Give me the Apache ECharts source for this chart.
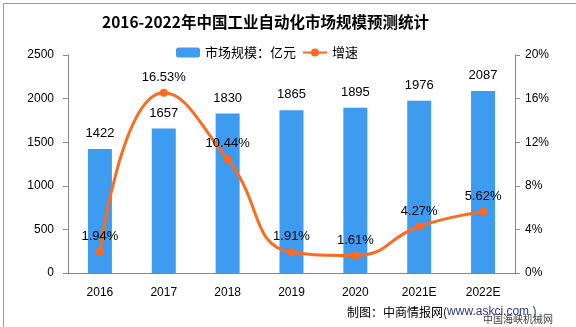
<!DOCTYPE html>
<html><head><meta charset="utf-8">
<script src="https://cdn.jsdelivr.net/npm/echarts@6/dist/echarts.min.js"></script>
<style>html,body{margin:0;padding:0;background:#fff}#c{width:576px;height:327px}</style>
</head><body><div id="c"></div>
<script>
const categories = ['2016','2017','2018','2019','2020','2021E','2022E'];
const marketSize = [1422,1657,1830,1865,1895,1976,2087];
const growth = [1.94,16.53,10.44,1.91,1.61,4.27,5.62];
const leftTicks = {min:0,max:2500,interval:500};
const rightTicks = {min:0,max:20,interval:4};

const chart = echarts.init(document.getElementById('c'));
const axisFont = {color:'#000',fontSize:12,fontFamily:'Liberation Sans'};
chart.setOption({
  animation:false,
  title:{text:'2016-2022年中国工业自动化市场规模预测统计',left:97,top:9,
    textStyle:{fontSize:15.5,fontWeight:'bold',color:'#000',fontFamily:'Noto Sans CJK SC'}},
  legend:{top:41,left:171,itemGap:6,itemWidth:24,itemHeight:10,
    textStyle:{fontSize:13,color:'#000',fontFamily:'Noto Sans CJK SC'},
    data:[{name:'市场规模：亿元'},{name:'增速'}]},
  grid:{left:68,right:61,top:55,bottom:54},
  xAxis:{type:'category',data:categories,
    axisLine:{lineStyle:{color:'#888'}},axisTick:{length:7,lineStyle:{color:'#888'}},
    axisLabel:Object.assign({margin:14},axisFont)},
  yAxis:[
    {type:'value',min:leftTicks.min,max:leftTicks.max,interval:leftTicks.interval,
     axisLine:{show:true,lineStyle:{color:'#888'}},axisTick:{show:true,length:5,lineStyle:{color:'#888'}},
     splitLine:{show:false},axisLabel:Object.assign({margin:14,formatter:v=>String(v)},axisFont)},
    {type:'value',min:rightTicks.min,max:rightTicks.max,interval:rightTicks.interval,
     axisLine:{show:true,lineStyle:{color:'#888'}},axisTick:{show:true,length:5,lineStyle:{color:'#888'}},
     splitLine:{show:false},axisLabel:Object.assign({margin:10,formatter:'{value}%'},axisFont)}
  ],
  series:[
    {name:'市场规模：亿元',type:'bar',data:marketSize,barWidth:24,
     itemStyle:{color:'#3d9cf0'},
     label:{show:true,position:'top',distance:9,color:'#000',fontSize:13,fontFamily:'Liberation Sans'}},
    {name:'增速',type:'line',yAxisIndex:1,data:growth,smooth:0.5,
     symbol:'circle',symbolSize:8,
     lineStyle:{color:'#ff6a1f',width:3},itemStyle:{color:'#ff6a1f'},
     label:{show:true,position:'top',distance:5,color:'#000',fontSize:13,fontFamily:'Liberation Sans',
       formatter:p=>p.value.toFixed(2)+'%'}}
  ],
  graphic:[
    {type:'rect',left:1,top:1,shape:{width:573,height:324},style:{fill:'none',stroke:'#999',lineWidth:1},silent:true},
    {type:'text',left:347,top:306,style:{
      text:'{a|制图：中商情报网(}{b|www.askci.com )}',
      rich:{a:{fontSize:12,fill:'#000',fontFamily:'Noto Sans CJK SC'},b:{fontSize:12,fill:'#2a3a8a',fontFamily:'Liberation Sans'}}}},
    {type:'text',left:483,top:314,style:{text:'中国海峡机械网',fontSize:10,fill:'#444',fontFamily:'Noto Sans CJK SC'}}
  ]
});
</script></body></html>
